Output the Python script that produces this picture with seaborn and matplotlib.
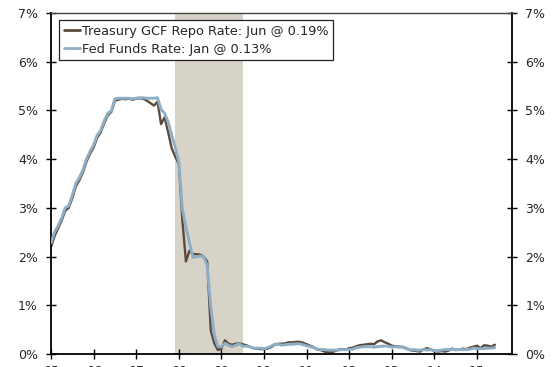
import numpy as np
import pandas as pd
import matplotlib
matplotlib.use("Agg")
import matplotlib.pyplot as plt
from matplotlib.ticker import FuncFormatter, FixedLocator
import seaborn as sns

# Monthly series, Jan 2005 through Jun 2015 (percent)
repo_rate = [
    2.20, 2.42, 2.58, 2.74, 2.94, 3.00, 3.20, 3.44, 3.57, 3.73, 3.95, 4.11,   # 2005
    4.24, 4.44, 4.55, 4.74, 4.90, 4.97, 5.20, 5.22, 5.24, 5.23, 5.24, 5.22,   # 2006
    5.24, 5.25, 5.24, 5.20, 5.15, 5.10, 5.18, 4.72, 4.86, 4.55, 4.22, 4.05,   # 2007
    3.90, 2.75, 1.90, 2.12, 2.05, 2.05, 2.04, 2.00, 1.90, 0.48, 0.22, 0.08,   # 2008
    0.11, 0.28, 0.21, 0.19, 0.21, 0.22, 0.20, 0.18, 0.15, 0.12, 0.11, 0.10,   # 2009
    0.10, 0.11, 0.14, 0.19, 0.21, 0.21, 0.22, 0.24, 0.24, 0.25, 0.25, 0.23,   # 2010
    0.20, 0.17, 0.14, 0.09, 0.08, 0.05, 0.04, 0.03, 0.06, 0.09, 0.10, 0.09,   # 2011
    0.12, 0.13, 0.16, 0.18, 0.19, 0.20, 0.21, 0.20, 0.26, 0.28, 0.24, 0.21,   # 2012
    0.17, 0.16, 0.15, 0.14, 0.12, 0.08, 0.07, 0.06, 0.05, 0.10, 0.12, 0.09,   # 2013
    0.06, 0.05, 0.06, 0.05, 0.07, 0.11, 0.08, 0.09, 0.11, 0.10, 0.13, 0.15,   # 2014
    0.17, 0.12, 0.18, 0.17, 0.15, 0.19,                                       # 2015
]
fed_funds = [
    2.28, 2.50, 2.63, 2.79, 3.00, 3.04, 3.26, 3.50, 3.62, 3.78, 4.00, 4.16,   # 2005
    4.29, 4.49, 4.59, 4.79, 4.94, 4.99, 5.24, 5.25, 5.25, 5.25, 5.25, 5.24,   # 2006
    5.25, 5.26, 5.26, 5.25, 5.25, 5.25, 5.26, 5.02, 4.94, 4.76, 4.49, 4.24,   # 2007
    3.94, 2.98, 2.61, 2.28, 1.98, 2.00, 2.01, 2.00, 1.81, 0.97, 0.39, 0.16,   # 2008
    0.15, 0.22, 0.18, 0.15, 0.18, 0.21, 0.16, 0.16, 0.15, 0.12, 0.12, 0.12,   # 2009
    0.11, 0.13, 0.16, 0.20, 0.20, 0.18, 0.19, 0.20, 0.20, 0.21, 0.21, 0.19,   # 2010
    0.17, 0.15, 0.13, 0.10, 0.09, 0.09, 0.08, 0.08, 0.08, 0.08, 0.09, 0.09,   # 2011
    0.09, 0.10, 0.13, 0.14, 0.15, 0.15, 0.15, 0.14, 0.15, 0.16, 0.16, 0.16,   # 2012
    0.14, 0.15, 0.14, 0.15, 0.11, 0.09, 0.09, 0.08, 0.08, 0.09, 0.08, 0.09,   # 2013
    0.07, 0.07, 0.08, 0.09, 0.09, 0.10, 0.09, 0.09, 0.09, 0.09, 0.10, 0.12,   # 2014
    0.11, 0.11, 0.11, 0.12, 0.12, 0.13,                                       # 2015
]
start_year = 2005
year_ticks = list(range(2005, 2016))
year_labels = ["05", "06", "07", "08", "09", "10", "11", "12", "13", "14", "15"]
y_ticks = [0, 1, 2, 3, 4, 5, 6, 7]
recession = (2007 + 11 / 12, 2009.5)

repo_label = "Treasury GCF Repo Rate: Jun @ 0.19%"
ff_label = "Fed Funds Rate: Jan @ 0.13%"

n = len(repo_rate)
t = start_year + np.arange(n) / 12.0
df = pd.DataFrame({
    "t": np.concatenate([t, t]),
    "rate": np.concatenate([repo_rate, fed_funds]),
    "series": [repo_label] * n + [ff_label] * n,
})

sns.set_theme(style="white")
plt.rcParams["font.family"] = ["DejaVu Sans"]

fig = plt.figure(figsize=(5.60, 3.67), dpi=100)
ax = fig.add_axes([51 / 560, 13 / 367, (512 - 51) / 560, (354 - 13) / 367])

ax.axvspan(*recession, color="#d8d3c8", lw=0, zorder=0)

sns.lineplot(
    data=df, x="t", y="rate", hue="series",
    palette={repo_label: "#5b4a3c", ff_label: "#8eaec6"},
    linewidth=1.9, ax=ax, legend=True, estimator=None, sort=False,
)
lines = ax.get_lines()
lines[0].set_linewidth(1.7)
lines[0].set_zorder(2)
lines[1].set_linewidth(2.1)
lines[1].set_zorder(3)

ax.set_xlim(2005.0, 2015.82)
ax.set_ylim(0, 7)
ax.set_xlabel("")
ax.set_ylabel("")

ax.xaxis.set_major_locator(FixedLocator(year_ticks))
ax.set_xticklabels(year_labels)
ax.yaxis.set_major_locator(FixedLocator(y_ticks))
ax.yaxis.set_major_formatter(FuncFormatter(lambda v, p: f"{v:.0f}%"))

ax.tick_params(axis="x", direction="inout", length=7, width=1.0, color="black",
               labelsize=9, pad=4.6, bottom=True)
ax.tick_params(axis="y", direction="inout", length=7, width=1.0, color="black",
               labelsize=9, pad=6, left=True, right=True,
               labelleft=True, labelright=True)

for side in ("left", "right", "bottom"):
    ax.spines[side].set_color("black")
    ax.spines[side].set_linewidth(1.3)
ax.spines["top"].set_color("#444444")
ax.spines["top"].set_linewidth(1.0)

leg = ax.legend(
    loc="upper left", bbox_to_anchor=(8 / 461, 1 - 7 / 341),
    frameon=True, fancybox=False, shadow=False, fontsize=9.3,
    handlelength=1.3, handletextpad=0.1, borderpad=0.35,
    labelspacing=0.4, borderaxespad=0.0, title=None,
)
leg.get_frame().set_edgecolor("#222222")
leg.get_frame().set_linewidth(0.9)
leg.get_frame().set_alpha(1.0)
for h in leg.get_lines():
    h.set_linewidth(2.0)

fig.savefig("out.png", dpi=100)
